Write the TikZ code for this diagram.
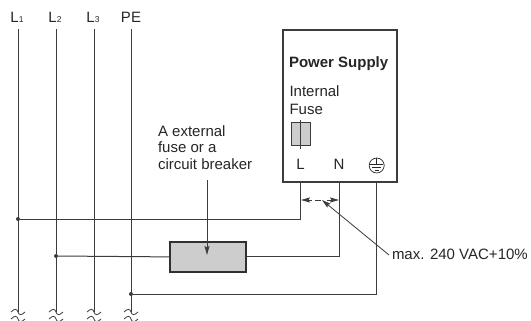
\documentclass[tikz,border=0pt]{standalone}
\usepackage{fontspec}
\setmainfont{Liberation Sans}
\usetikzlibrary{arrows.meta}
\tikzset{
  wire/.style={draw=wireColor,line width=1pt},
  dot/.style={circle,fill=wireColor,inner sep=0pt,minimum size=4pt},
  lbl/.style={text=black!85,inner sep=0pt,outer sep=0pt,font=\fontsize{15}{17}\selectfont},
  tip/.style={-{Stealth[length=9pt,width=5pt,inset=1.5pt]}},
}
\newcommand{\phaseidx}[1]{{\fontsize{8.5}{9}\selectfont #1}}
\begin{document}
\begin{tikzpicture}[x=1pt,y=-1pt]
\definecolor{wireColor}{RGB}{60,60,60}
\definecolor{fillColor}{RGB}{205,205,205}
\path[use as bounding box,fill=white] (0,0) rectangle (531,321);

% phase labels
\node[lbl,anchor=base] (nameA) at ( 17,23) {L\phaseidx{1}};
\node[lbl,anchor=base] (nameB) at ( 55,23) {L\phaseidx{2}};
\node[lbl,anchor=base] (nameC) at ( 93,23) {L\phaseidx{3}};
\node[lbl,anchor=base] (nameE) at (131,23) {PE};

% bus bars
\foreach \n/\x in {A/18,B/56,C/94,E/131}{
  \coordinate (top\n) at (\x,29);
  \coordinate (end\n) at (\x,312);
  \draw[wire] (top\n) -- (end\n);
  \draw[wire,line width=0.8pt] (\x-7,312) .. controls (\x-3,308) and (\x-1,309) .. (\x,312) .. controls (\x+1,315) and (\x+3,316) .. (\x+7,312);
  \draw[wire,line width=0.8pt] (\x-7,319) .. controls (\x-3,315) and (\x-1,316) .. (\x,319) .. controls (\x+1,322) and (\x+3,323) .. (\x+7,319);
}

% power supply
\node[draw=wireColor,line width=1.6pt,fill=white,minimum width=114pt,minimum height=152pt,inner sep=0pt,anchor=north west] (supply) at (282,29) {};
\node[lbl,anchor=base west,font=\fontsize{15}{17}\selectfont\bfseries] (title) at (289,68) {Power Supply};
\node[lbl,anchor=base west] (fuseA) at (289.5,97) {Internal};
\node[lbl,anchor=base west] (fuseB) at (289.5,114) {Fuse};
\node[draw=wireColor,line width=1pt,fill=fillColor,minimum width=19pt,minimum height=23pt,inner sep=0pt] (fuse) at (300.5,134.5) {};
\draw[wire] (300.5,120) -- (300.5,149);
\node[lbl,anchor=base] (termL) at (300.5,169) {L};
\node[lbl,anchor=base] (termN) at (339,169) {N};
\node[draw=black!85,line width=0.7pt,circle,minimum size=15pt,inner sep=0pt] (termE) at (376.7,165.5) {};
\draw[black!85,line width=0.7pt] (376.7,158) -- (376.7,164.5) (370,164.5) -- (383.4,164.5) (372,167.5) -- (381.4,167.5) (374.5,170.3) -- (379,170.3);

% external fuse
\node[draw=wireColor!80!black,line width=1.8pt,fill=fillColor,minimum width=76pt,minimum height=30pt,inner sep=0pt,anchor=north west] (breaker) at (169,241) {};

% junctions
\node[dot] (jA) at (18,219) {};
\node[dot] (jB) at (56,256) {};
\node[dot] (jE) at (131,294) {};
\coordinate (pL) at (300.5,181);
\coordinate (pN) at (339,181);
\coordinate (pE) at (376.7,181);

% wiring
\draw[wire] (jA) -| (pL);
\draw[wire] (jB) -- (breaker.west);
\draw[wire] (breaker.east) -| (pN);
\draw[wire] (jE) -| (pE);

% clearance
\coordinate (gapL) at (301,200);
\coordinate (gapR) at (339,200);
\coordinate (gapA) at (312,200);
\coordinate (gapB) at (327,200);
\coordinate (dashA) at (315,200);
\coordinate (dashB) at (321,200);
\draw[wire,line width=0.8pt] (dashA) -- (dashB);
\draw[wire,line width=0.8pt,tip] (gapA) -- (gapL);
\draw[wire,line width=0.8pt,tip] (gapB) -- (gapR);
\node[lbl,anchor=base west] (limit) at (392,259) {max. 240 VAC+10\%};
\coordinate (limitEnd) at (389,255);
\coordinate (limitTip) at (322,200);
\draw[wire,line width=0.8pt,tip] (limitEnd) -- (limitTip);

% breaker label
\node[lbl,anchor=base west] (capA) at (158,136) {A external};
\node[lbl,anchor=base west] (capB) at (158,153) {fuse or a};
\node[lbl,anchor=base west] (capC) at (158,169.5) {circuit breaker};
\coordinate (capEnd) at (207,180);
\coordinate (capTip) at (207,255);
\draw[wire,tip] (capEnd) -- (capTip);
\end{tikzpicture}
\end{document}
